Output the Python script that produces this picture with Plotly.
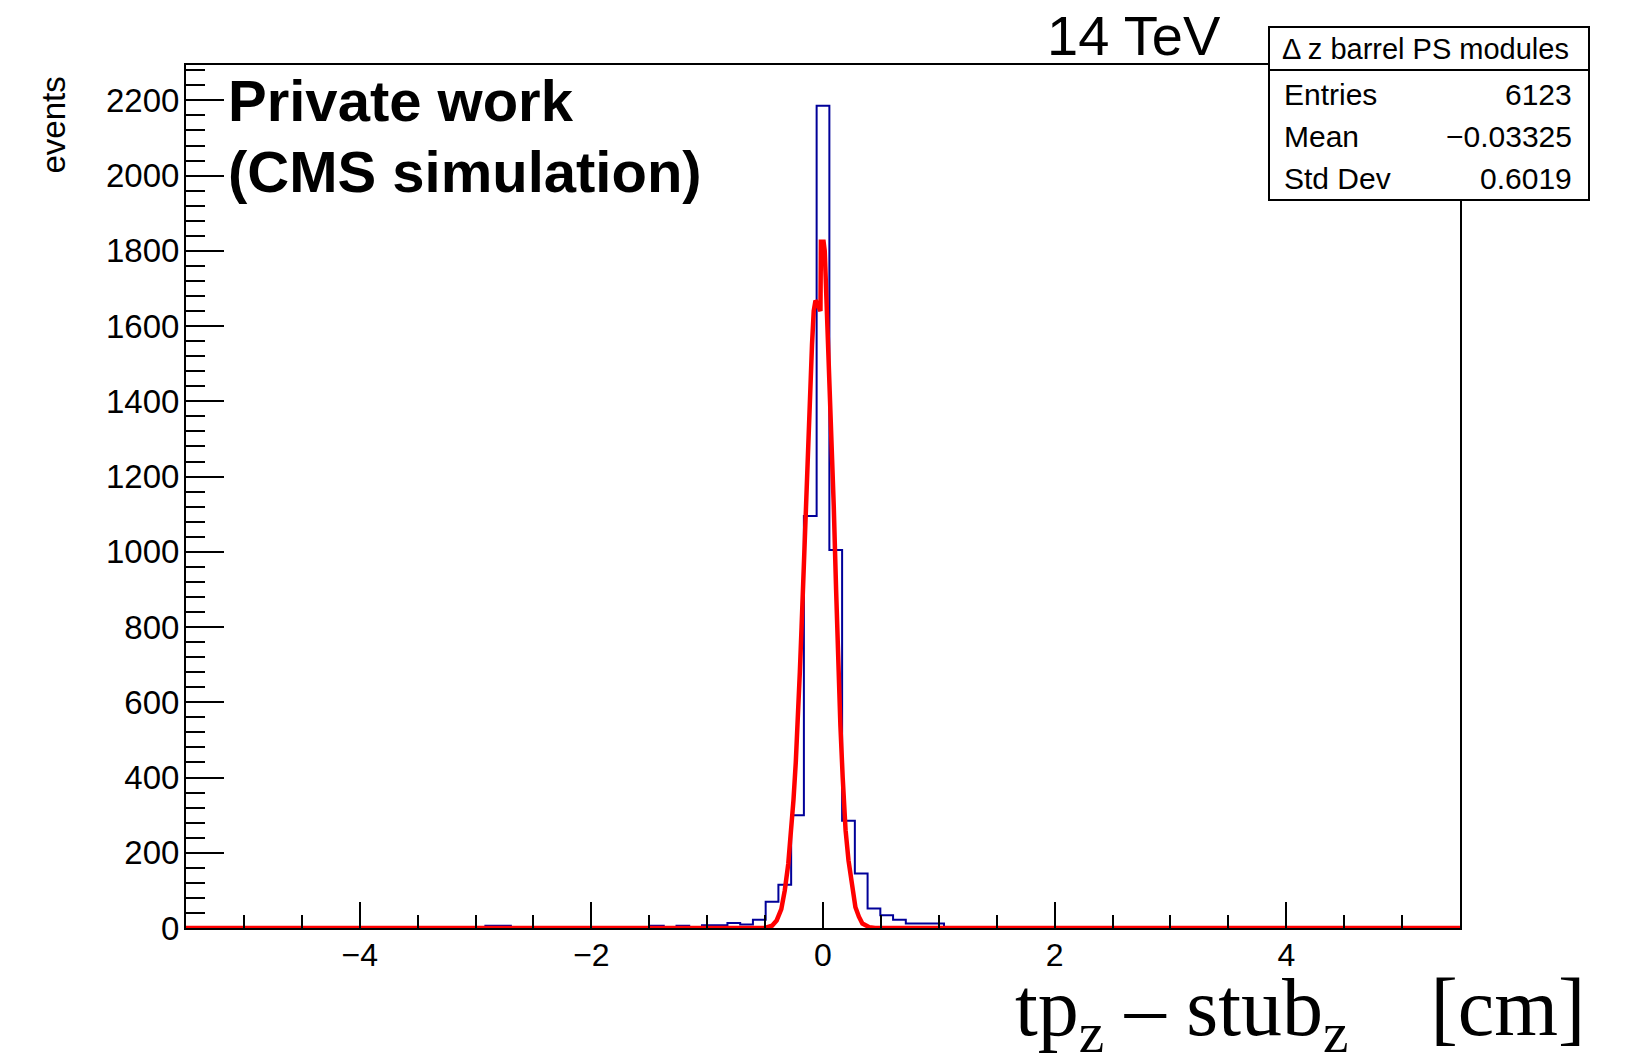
import plotly.graph_objects as go

# ---------------- data ----------------
bin_width = 0.11
hist_centers = [-2.86, -2.75, -1.43, -1.21, -0.99, -0.88, -0.77, -0.66, -0.55, -0.44,
                -0.33, -0.22, -0.11, 0.0, 0.11, 0.22, 0.33, 0.44, 0.55, 0.66, 0.77, 0.88, 0.99]
hist_counts = [6, 6, 6, 6, 7, 7, 13, 9, 22, 70,
               115, 300, 1095, 2186, 1005, 285, 145, 52, 34, 22, 12, 12, 12]

fit_x = [-5.5, -0.5, -0.44, -0.40, -0.36, -0.33, -0.30, -0.275, -0.255, -0.235, -0.215,
         -0.20, -0.185, -0.17, -0.155, -0.14, -0.125, -0.11, -0.095, -0.08, -0.065,
         -0.05, -0.035, -0.022, -0.018, 0.005, 0.015, 0.025, 0.035, 0.05, 0.065, 0.08,
         0.093, 0.113, 0.13, 0.15, 0.17, 0.195, 0.22, 0.25, 0.28, 0.31, 0.34, 0.40, 0.45, 5.5]
fit_y = [0, 0, 6, 20, 50, 100, 170, 260, 340, 440, 560,
         680, 800, 940, 1050, 1180, 1290, 1420, 1550, 1640, 1668,
         1660, 1645, 1640, 1824, 1824, 1800, 1720, 1640, 1500, 1420, 1300,
         1120, 900, 720, 540, 400, 260, 180, 115, 55, 30, 12, 2, 0, 0]

stats_title = "Δ z barrel PS modules"
stats_labels = ["Entries", "Mean", "Std Dev"]
stats_values = ["6123", "−0.03325", "0.6019"]

# full set of bin centres over the axis (empty bins are zero)
all_centers = [round(k * bin_width, 2) for k in range(-50, 51)]
lookup = {round(c, 2): v for c, v in zip(hist_centers, hist_counts)}
all_counts = [lookup.get(c, 0) for c in all_centers]

# ---------------- layout geometry ----------------
W, H = 1640, 1063
L, R, T, B = 186, 180, 65, 135
PW, PH = W - L - R, H - T - B


def px(x):
    return (x - L) / PW


def py(y):
    return (H - B - y) / PH


SANS = "Liberation Sans, Arial, Helvetica, sans-serif"
SERIF = "Liberation Serif, Times New Roman, serif"

fig = go.Figure()
fig.add_trace(go.Scatter(x=all_centers, y=all_counts, mode="lines",
                         line=dict(color="#000099", width=2, shape="hvh"),
                         hoverinfo="skip", showlegend=False))
fig.add_trace(go.Scatter(x=fit_x, y=fit_y, mode="lines",
                         line=dict(color="#ff0000", width=4.5),
                         hoverinfo="skip", showlegend=False))

fig.update_layout(
    width=W, height=H,
    margin=dict(l=L, r=R, t=T, b=B, pad=0),
    paper_bgcolor="white", plot_bgcolor="white",
    showlegend=False,
    font=dict(family=SANS, color="black"),
)
fig.update_xaxes(
    range=[-5.5, 5.5], showgrid=False, zeroline=False,
    showline=True, linecolor="black", linewidth=2, mirror=True,
    ticks="inside", ticklen=26, tickwidth=1.5, tickcolor="black",
    tick0=0, dtick=2, tickfont=dict(family=SANS, size=32, color="black"),
    ticklabelstandoff=-2,
    minor=dict(ticks="inside", ticklen=13, tickwidth=1.5, tickcolor="black",
               tick0=0, dtick=0.5, showgrid=False),
)
fig.update_yaxes(
    range=[0, 2294], showgrid=False, zeroline=False,
    showline=True, linecolor="black", linewidth=2, mirror=True,
    ticks="inside", ticklen=38, tickwidth=1.5, tickcolor="black",
    tick0=0, dtick=200, tickfont=dict(family=SANS, size=33, color="black"),
    ticklabelstandoff=-2,
    minor=dict(ticks="inside", ticklen=19, tickwidth=1.5, tickcolor="black",
               tick0=0, dtick=40, showgrid=False),
)

# stats box
fig.add_shape(type="rect", xref="paper", yref="paper",
              x0=px(1269), x1=px(1589), y0=py(200), y1=py(27),
              fillcolor="white", line=dict(color="black", width=2), layer="above")
fig.add_shape(type="line", xref="paper", yref="paper",
              x0=px(1269), x1=px(1589), y0=py(70), y1=py(70),
              line=dict(color="black", width=2), layer="above")

ann = []
ann.append(dict(text=stats_title, x=px(1425), y=py(49), xanchor="center", yanchor="middle",
                font=dict(family=SANS, size=29, color="black")))
row_y = [94, 136, 178]
for lab, val, yy in zip(stats_labels, stats_values, row_y):
    ann.append(dict(text=lab, x=px(1282), y=py(yy), xanchor="left", yanchor="middle",
                    font=dict(family=SANS, size=30, color="black")))
    ann.append(dict(text=val, x=px(1574), y=py(yy), xanchor="right", yanchor="middle",
                    font=dict(family=SANS, size=30, color="black")))

ann.append(dict(text="<b>Private work</b>", x=px(226), y=py(100.5), xanchor="left",
                yanchor="middle", font=dict(family=SANS, size=58, color="black")))
ann.append(dict(text="<b>(CMS simulation)</b>", x=px(226), y=py(171), xanchor="left",
                yanchor="middle", font=dict(family=SANS, size=58, color="black")))
ann.append(dict(text="14 TeV", x=px(1223), y=py(35.4), xanchor="right", yanchor="middle",
                font=dict(family=SANS, size=56, color="black")))
ann.append(dict(text="events", x=px(53), y=py(125.5), xanchor="center", yanchor="middle",
                textangle=-90, font=dict(family=SANS, size=33, color="black")))
ann.append(dict(text="tp<sub>z</sub>\u00a0–\u00a0stub<sub>z</sub>\u00a0\u00a0\u00a0\u00a0[cm]",
                x=px(1587), y=py(960), xanchor="right", yanchor="top",
                font=dict(family=SERIF, size=82, color="black")))
for a in ann:
    a.update(xref="paper", yref="paper", showarrow=False)
fig.update_layout(annotations=ann)

fig.write_html("out.html")
